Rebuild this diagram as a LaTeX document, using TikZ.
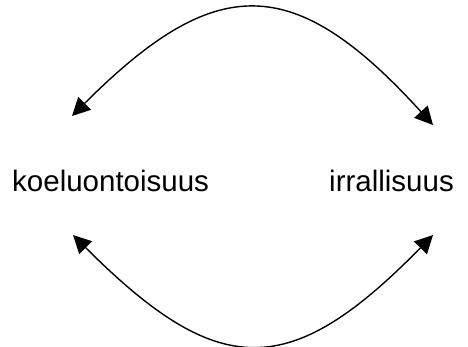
\documentclass[tikz,border=0pt]{standalone}
\usepackage{fontspec}
\setmainfont{Liberation Sans}
\usetikzlibrary{arrows.meta}
\begin{document}
\begin{tikzpicture}[x=1pt,y=-1pt,
  lbl/.style={font=\fontsize{29.5}{34}\selectfont, inner sep=0pt},
  link/.style={line width=1.4pt, {Triangle[length=18pt,width=18pt]}-{Triangle[length=18pt,width=18pt]}}]
\useasboundingbox (0,0) rectangle (468,347);
\node[lbl, anchor=base west] (k) at (12,192) {koeluontoisuus};
\node[lbl, anchor=base east] (i) at (454,192) {irrallisuus};
\coordinate (tl) at (72,116);
\coordinate (tr) at (433,125);
\coordinate (bl) at (73,235);
\coordinate (br) at (433,235);
\draw[link] (tl) .. controls (216,-28) and (294,-28) .. (tr);
\draw[link] (bl) .. controls (219,381) and (290,381) .. (br);
\end{tikzpicture}
\end{document}
